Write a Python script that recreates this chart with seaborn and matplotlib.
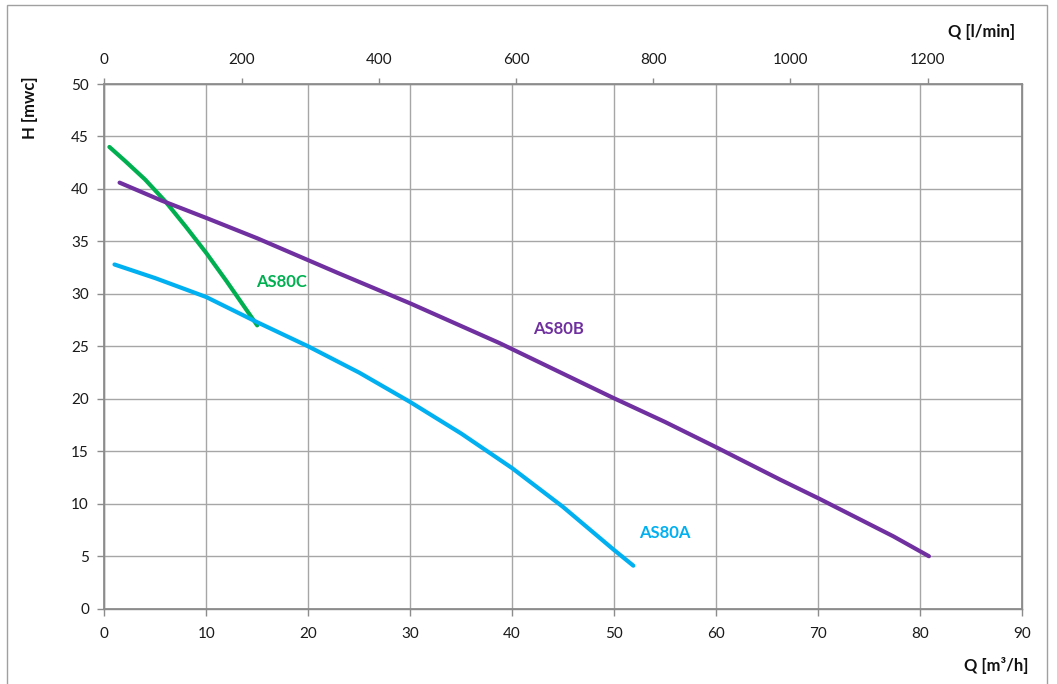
import matplotlib
matplotlib.use("Agg")
import matplotlib.pyplot as plt
import seaborn as sns
import pandas as pd
from matplotlib.patches import Rectangle

sns.set_theme(style="white")
plt.rcParams['font.family'] = ['Lato', 'DejaVu Sans']

# Data (Q in m3/h, H in mwc)
q_c = [0.5, 2.0, 4.0, 6.0, 8.0, 10.0, 12.0, 14.0, 15.0]
h_c = [44.0, 42.7, 40.9, 38.8, 36.4, 33.9, 31.2, 28.4, 27.0]

q_b = [1.5, 5.6, 10.1, 15.0, 22.9, 30.0, 38.8, 49.9, 55.0, 60.0, 66.3, 70.1, 77.4, 80.9]
h_b = [40.6, 38.9, 37.2, 35.3, 32.0, 29.1, 25.3, 20.1, 17.8, 15.4, 12.3, 10.5, 6.9, 5.0]

q_a = [1.0, 5.0, 10.0, 15.0, 20.0, 25.0, 30.0, 35.0, 40.0, 45.0, 50.0, 51.9]
h_a = [32.8, 31.5, 29.7, 27.3, 25.0, 22.5, 19.7, 16.7, 13.4, 9.7, 5.6, 4.1]

series_names = ["AS80C", "AS80B", "AS80A"]
colors = {"AS80C": "#00B050", "AS80B": "#7030A0", "AS80A": "#00B0F0"}

x_ticks = list(range(0, 91, 10))
y_ticks = list(range(0, 51, 5))
top_ticks = list(range(0, 1201, 200))

df = pd.concat([
    pd.DataFrame({"Q": q_c, "H": h_c, "pump": "AS80C"}),
    pd.DataFrame({"Q": q_b, "H": h_b, "pump": "AS80B"}),
    pd.DataFrame({"Q": q_a, "H": h_a, "pump": "AS80A"}),
])

W, Hh = 1057, 684
fig = plt.figure(figsize=(W / 100, Hh / 100), dpi=100)
fig.patches.append(Rectangle((7 / W, -0.01), (1047 - 7) / W, 1 - 5 / Hh + 0.01,
                             transform=fig.transFigure, fill=False,
                             edgecolor="#A0A0A0", linewidth=1.0))
ax = fig.add_axes([104.3 / W, 1 - 608.7 / Hh, (1021.7 - 104.3) / W, (608.7 - 84) / Hh])

grid_c = "#A6A6A6"
spine_c = "#8C8C8C"

for name in series_names:
    sub = df[df["pump"] == name]
    sns.lineplot(data=sub, x="Q", y="H", ax=ax, color=colors[name],
                 linewidth=3.0, sort=False, estimator=None, legend=False)

ax.set_xlim(0, 90)
ax.set_ylim(0, 50)
ax.set_xticks(x_ticks)
ax.set_yticks(y_ticks)
ax.grid(True, color=grid_c, linewidth=1.0)
ax.set_axisbelow(True)
ax.set_xlabel("")
ax.set_ylabel("")
for s in ax.spines.values():
    s.set_color(spine_c)
    s.set_linewidth(1.0)
ax.tick_params(axis="both", direction="out", length=5, width=1, color=spine_c,
               labelsize=11, labelcolor="#1a1a1a")
ax.tick_params(axis="x", pad=8)
ax.tick_params(axis="y", pad=6)
ax.tick_params(left=True, bottom=True)

ax2 = ax.twiny()
ax2.set_xlim(0, 1337)
ax2.set_xticks(top_ticks)
ax2.tick_params(axis="x", direction="out", length=4, width=1, color=spine_c,
                labelsize=11, labelcolor="#1a1a1a", pad=8, top=True)
for s in ax2.spines.values():
    s.set_color(spine_c)
ax2.grid(False)

ax.text(17.4, 31.1, "AS80C", color=colors["AS80C"], fontsize=12, fontweight="bold",
        ha="center", va="center")
ax.text(44.6, 26.7, "AS80B", color=colors["AS80B"], fontsize=12, fontweight="bold",
        ha="center", va="center")
ax.text(55.0, 7.2, "AS80A", color=colors["AS80A"], fontsize=12, fontweight="bold",
        ha="center", va="center")

fig.text(30 / W, 1 - 108 / Hh, "H [mwc]", rotation=90, fontsize=12, fontweight="bold",
         ha="center", va="center", color="#111111")
fig.text(1015 / W, 1 - 32 / Hh, "Q [l/min]", fontsize=12, fontweight="bold",
         ha="right", va="center", color="#111111")
fig.text(1029 / W, 1 - 665 / Hh, "Q [m³/h]", fontsize=12, fontweight="bold",
         ha="right", va="center", color="#111111")

fig.savefig("out.png", dpi=100)
